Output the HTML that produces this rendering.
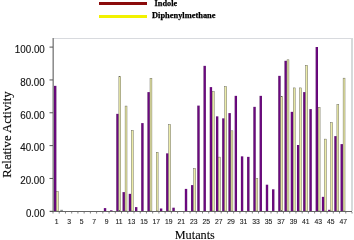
<!DOCTYPE html>
<html><head><meta charset="utf-8"><style>
html,body{margin:0;padding:0;background:#fff;}
body{width:354px;height:240px;overflow:hidden;}
svg{display:block;will-change:transform;}
text{font-family:"Liberation Sans",sans-serif;}
.ser{font-family:"Liberation Serif",serif;}
</style></head><body>
<svg width="354" height="240" viewBox="0 0 354 240">
<defs>
<linearGradient id="gp" x1="0" y1="0" x2="1" y2="0"><stop offset="0" stop-color="#4a0058"/><stop offset="0.3" stop-color="#6c0880"/><stop offset="0.7" stop-color="#6c0880"/><stop offset="1" stop-color="#4a0058"/></linearGradient>
<linearGradient id="gy" x1="0" y1="0" x2="1" y2="0"><stop offset="0" stop-color="#8e8e78"/><stop offset="0.35" stop-color="#f0f2b0"/><stop offset="0.65" stop-color="#f0f2b0"/><stop offset="1" stop-color="#8e8e78"/></linearGradient>
</defs>
<rect x="0" y="0" width="354" height="240" fill="#fff"/>

<rect x="99" y="2" width="48" height="3" fill="#8a0a0a"/>
<rect x="99" y="15" width="48" height="3" fill="#f2f200"/>
<text class="ser" x="154.6" y="6.25" font-size="9" font-weight="bold" fill="#000" stroke="#000" stroke-width="0.25" textLength="22.5" lengthAdjust="spacingAndGlyphs">Indole</text>
<text class="ser" x="152" y="18.1" font-size="9" font-weight="bold" fill="#000" stroke="#000" stroke-width="0.25" textLength="63.5" lengthAdjust="spacingAndGlyphs">Diphenylmethane</text>
<rect x="53" y="38" width="299" height="1" fill="#d8dade"/>
<rect x="351" y="38" width="2" height="173" fill="#d6dada"/>
<rect x="54.02" y="85.85" width="2.35" height="125.15" fill="url(#gp)"/>
<rect x="56.57" y="191.55" width="1.90" height="19.45" fill="#ececa8" stroke="#626252" stroke-width="0.45"/>
<rect x="103.86" y="208.10" width="2.35" height="2.90" fill="url(#gp)"/>
<rect x="110.09" y="210.30" width="2.35" height="0.70" fill="url(#gp)"/>
<rect x="116.32" y="113.85" width="2.35" height="97.15" fill="url(#gp)"/>
<rect x="118.87" y="76.55" width="1.90" height="134.45" fill="#ececa8" stroke="#626252" stroke-width="0.45"/>
<rect x="122.55" y="192.10" width="2.35" height="18.90" fill="url(#gp)"/>
<rect x="125.10" y="106.05" width="1.90" height="104.95" fill="#ececa8" stroke="#626252" stroke-width="0.45"/>
<rect x="128.77" y="193.85" width="2.35" height="17.15" fill="url(#gp)"/>
<rect x="131.32" y="130.30" width="1.90" height="80.70" fill="#ececa8" stroke="#626252" stroke-width="0.45"/>
<rect x="135.00" y="207.10" width="2.35" height="3.90" fill="url(#gp)"/>
<rect x="141.23" y="123.10" width="2.35" height="87.90" fill="url(#gp)"/>
<rect x="147.46" y="92.10" width="2.35" height="118.90" fill="url(#gp)"/>
<rect x="150.01" y="78.30" width="1.90" height="132.70" fill="#ececa8" stroke="#626252" stroke-width="0.45"/>
<rect x="156.24" y="152.30" width="1.90" height="58.70" fill="#ececa8" stroke="#626252" stroke-width="0.45"/>
<rect x="159.92" y="208.50" width="2.35" height="2.50" fill="url(#gp)"/>
<rect x="166.15" y="153.35" width="2.35" height="57.65" fill="url(#gp)"/>
<rect x="168.70" y="124.55" width="1.90" height="86.45" fill="#ececa8" stroke="#626252" stroke-width="0.45"/>
<rect x="172.38" y="207.70" width="2.35" height="3.30" fill="url(#gp)"/>
<rect x="184.84" y="188.90" width="2.35" height="22.10" fill="url(#gp)"/>
<rect x="191.07" y="185.10" width="2.35" height="25.90" fill="url(#gp)"/>
<rect x="193.62" y="168.50" width="1.90" height="42.50" fill="#ececa8" stroke="#626252" stroke-width="0.45"/>
<rect x="197.30" y="105.60" width="2.35" height="105.40" fill="url(#gp)"/>
<rect x="203.52" y="65.85" width="2.35" height="145.15" fill="url(#gp)"/>
<rect x="209.75" y="87.10" width="2.35" height="123.90" fill="url(#gp)"/>
<rect x="212.30" y="91.55" width="1.90" height="119.45" fill="#ececa8" stroke="#626252" stroke-width="0.45"/>
<rect x="215.98" y="116.35" width="2.35" height="94.65" fill="url(#gp)"/>
<rect x="218.53" y="157.10" width="1.90" height="53.90" fill="#ececa8" stroke="#626252" stroke-width="0.45"/>
<rect x="222.21" y="118.35" width="2.35" height="92.65" fill="url(#gp)"/>
<rect x="224.76" y="86.55" width="1.90" height="124.45" fill="#ececa8" stroke="#626252" stroke-width="0.45"/>
<rect x="228.44" y="113.10" width="2.35" height="97.90" fill="url(#gp)"/>
<rect x="230.99" y="130.80" width="1.90" height="80.20" fill="#ececa8" stroke="#626252" stroke-width="0.45"/>
<rect x="234.67" y="95.85" width="2.35" height="115.15" fill="url(#gp)"/>
<rect x="240.90" y="156.35" width="2.35" height="54.65" fill="url(#gp)"/>
<rect x="247.13" y="156.85" width="2.35" height="54.15" fill="url(#gp)"/>
<rect x="253.36" y="106.85" width="2.35" height="104.15" fill="url(#gp)"/>
<rect x="255.91" y="178.40" width="1.90" height="32.60" fill="#ececa8" stroke="#626252" stroke-width="0.45"/>
<rect x="259.59" y="95.85" width="2.35" height="115.15" fill="url(#gp)"/>
<rect x="265.82" y="184.70" width="2.35" height="26.30" fill="url(#gp)"/>
<rect x="272.05" y="189.30" width="2.35" height="21.70" fill="url(#gp)"/>
<rect x="278.27" y="75.85" width="2.35" height="135.15" fill="url(#gp)"/>
<rect x="280.82" y="96.40" width="1.90" height="114.60" fill="#ececa8" stroke="#626252" stroke-width="0.45"/>
<rect x="284.50" y="60.80" width="2.35" height="150.20" fill="url(#gp)"/>
<rect x="287.05" y="59.80" width="1.90" height="151.20" fill="#ececa8" stroke="#626252" stroke-width="0.45"/>
<rect x="290.73" y="111.85" width="2.35" height="99.15" fill="url(#gp)"/>
<rect x="293.28" y="87.90" width="1.90" height="123.10" fill="#ececa8" stroke="#626252" stroke-width="0.45"/>
<rect x="296.96" y="145.00" width="2.35" height="66.00" fill="url(#gp)"/>
<rect x="299.51" y="87.90" width="1.90" height="123.10" fill="#ececa8" stroke="#626252" stroke-width="0.45"/>
<rect x="303.19" y="92.10" width="2.35" height="118.90" fill="url(#gp)"/>
<rect x="305.74" y="65.30" width="1.90" height="145.70" fill="#ececa8" stroke="#626252" stroke-width="0.45"/>
<rect x="309.42" y="109.10" width="2.35" height="101.90" fill="url(#gp)"/>
<rect x="315.65" y="47.00" width="2.35" height="164.00" fill="url(#gp)"/>
<rect x="318.20" y="107.30" width="1.90" height="103.70" fill="#ececa8" stroke="#626252" stroke-width="0.45"/>
<rect x="321.88" y="196.85" width="2.35" height="14.15" fill="url(#gp)"/>
<rect x="324.43" y="139.10" width="1.90" height="71.90" fill="#ececa8" stroke="#626252" stroke-width="0.45"/>
<rect x="328.11" y="209.80" width="2.35" height="1.20" fill="url(#gp)"/>
<rect x="330.66" y="122.50" width="1.90" height="88.50" fill="#ececa8" stroke="#626252" stroke-width="0.45"/>
<rect x="334.34" y="136.10" width="2.35" height="74.90" fill="url(#gp)"/>
<rect x="336.89" y="104.50" width="1.90" height="106.50" fill="#ececa8" stroke="#626252" stroke-width="0.45"/>
<rect x="340.57" y="144.10" width="2.35" height="66.90" fill="url(#gp)"/>
<rect x="343.12" y="78.15" width="1.90" height="132.85" fill="#ececa8" stroke="#626252" stroke-width="0.45"/>
<rect x="60.3" y="209.8" width="2.6" height="1.4" fill="#8a9090"/>
<rect x="52" y="38" width="1" height="173" fill="#bdbdbd"/>
<rect x="53" y="38" width="1" height="173" fill="#8e8e8e"/>
<line x1="50" y1="211.5" x2="352" y2="211.5" stroke="#666" stroke-width="1"/>
<line x1="49.5" y1="211.30" x2="53" y2="211.30" stroke="#555" stroke-width="1"/>
<text x="25.90" y="217.10" font-size="10" fill="#111" stroke="#111" stroke-width="0.12" textLength="18.9" lengthAdjust="spacingAndGlyphs">0.00</text>
<line x1="49.5" y1="178.46" x2="53" y2="178.46" stroke="#555" stroke-width="1"/>
<text x="20.20" y="184.26" font-size="10" fill="#111" stroke="#111" stroke-width="0.12" textLength="24.6" lengthAdjust="spacingAndGlyphs">20.00</text>
<line x1="49.5" y1="145.62" x2="53" y2="145.62" stroke="#555" stroke-width="1"/>
<text x="20.20" y="151.42" font-size="10" fill="#111" stroke="#111" stroke-width="0.12" textLength="24.6" lengthAdjust="spacingAndGlyphs">40.00</text>
<line x1="49.5" y1="112.78" x2="53" y2="112.78" stroke="#555" stroke-width="1"/>
<text x="20.20" y="118.58" font-size="10" fill="#111" stroke="#111" stroke-width="0.12" textLength="24.6" lengthAdjust="spacingAndGlyphs">60.00</text>
<line x1="49.5" y1="79.94" x2="53" y2="79.94" stroke="#555" stroke-width="1"/>
<text x="20.20" y="85.74" font-size="10" fill="#111" stroke="#111" stroke-width="0.12" textLength="24.6" lengthAdjust="spacingAndGlyphs">80.00</text>
<line x1="49.5" y1="47.10" x2="53" y2="47.10" stroke="#555" stroke-width="1"/>
<text x="14.80" y="52.90" font-size="10" fill="#111" stroke="#111" stroke-width="0.12" textLength="30.0" lengthAdjust="spacingAndGlyphs">100.00</text>
<line x1="53.00" y1="212" x2="53.00" y2="213.5" stroke="#666" stroke-width="0.8"/>
<line x1="59.23" y1="212" x2="59.23" y2="213.5" stroke="#666" stroke-width="0.8"/>
<line x1="65.46" y1="212" x2="65.46" y2="213.5" stroke="#666" stroke-width="0.8"/>
<line x1="71.69" y1="212" x2="71.69" y2="213.5" stroke="#666" stroke-width="0.8"/>
<line x1="77.92" y1="212" x2="77.92" y2="213.5" stroke="#666" stroke-width="0.8"/>
<line x1="84.15" y1="212" x2="84.15" y2="213.5" stroke="#666" stroke-width="0.8"/>
<line x1="90.38" y1="212" x2="90.38" y2="213.5" stroke="#666" stroke-width="0.8"/>
<line x1="96.60" y1="212" x2="96.60" y2="213.5" stroke="#666" stroke-width="0.8"/>
<line x1="102.83" y1="212" x2="102.83" y2="213.5" stroke="#666" stroke-width="0.8"/>
<line x1="109.06" y1="212" x2="109.06" y2="213.5" stroke="#666" stroke-width="0.8"/>
<line x1="115.29" y1="212" x2="115.29" y2="213.5" stroke="#666" stroke-width="0.8"/>
<line x1="121.52" y1="212" x2="121.52" y2="213.5" stroke="#666" stroke-width="0.8"/>
<line x1="127.75" y1="212" x2="127.75" y2="213.5" stroke="#666" stroke-width="0.8"/>
<line x1="133.98" y1="212" x2="133.98" y2="213.5" stroke="#666" stroke-width="0.8"/>
<line x1="140.21" y1="212" x2="140.21" y2="213.5" stroke="#666" stroke-width="0.8"/>
<line x1="146.44" y1="212" x2="146.44" y2="213.5" stroke="#666" stroke-width="0.8"/>
<line x1="152.67" y1="212" x2="152.67" y2="213.5" stroke="#666" stroke-width="0.8"/>
<line x1="158.90" y1="212" x2="158.90" y2="213.5" stroke="#666" stroke-width="0.8"/>
<line x1="165.12" y1="212" x2="165.12" y2="213.5" stroke="#666" stroke-width="0.8"/>
<line x1="171.35" y1="212" x2="171.35" y2="213.5" stroke="#666" stroke-width="0.8"/>
<line x1="177.58" y1="212" x2="177.58" y2="213.5" stroke="#666" stroke-width="0.8"/>
<line x1="183.81" y1="212" x2="183.81" y2="213.5" stroke="#666" stroke-width="0.8"/>
<line x1="190.04" y1="212" x2="190.04" y2="213.5" stroke="#666" stroke-width="0.8"/>
<line x1="196.27" y1="212" x2="196.27" y2="213.5" stroke="#666" stroke-width="0.8"/>
<line x1="202.50" y1="212" x2="202.50" y2="213.5" stroke="#666" stroke-width="0.8"/>
<line x1="208.73" y1="212" x2="208.73" y2="213.5" stroke="#666" stroke-width="0.8"/>
<line x1="214.96" y1="212" x2="214.96" y2="213.5" stroke="#666" stroke-width="0.8"/>
<line x1="221.19" y1="212" x2="221.19" y2="213.5" stroke="#666" stroke-width="0.8"/>
<line x1="227.42" y1="212" x2="227.42" y2="213.5" stroke="#666" stroke-width="0.8"/>
<line x1="233.65" y1="212" x2="233.65" y2="213.5" stroke="#666" stroke-width="0.8"/>
<line x1="239.88" y1="212" x2="239.88" y2="213.5" stroke="#666" stroke-width="0.8"/>
<line x1="246.10" y1="212" x2="246.10" y2="213.5" stroke="#666" stroke-width="0.8"/>
<line x1="252.33" y1="212" x2="252.33" y2="213.5" stroke="#666" stroke-width="0.8"/>
<line x1="258.56" y1="212" x2="258.56" y2="213.5" stroke="#666" stroke-width="0.8"/>
<line x1="264.79" y1="212" x2="264.79" y2="213.5" stroke="#666" stroke-width="0.8"/>
<line x1="271.02" y1="212" x2="271.02" y2="213.5" stroke="#666" stroke-width="0.8"/>
<line x1="277.25" y1="212" x2="277.25" y2="213.5" stroke="#666" stroke-width="0.8"/>
<line x1="283.48" y1="212" x2="283.48" y2="213.5" stroke="#666" stroke-width="0.8"/>
<line x1="289.71" y1="212" x2="289.71" y2="213.5" stroke="#666" stroke-width="0.8"/>
<line x1="295.94" y1="212" x2="295.94" y2="213.5" stroke="#666" stroke-width="0.8"/>
<line x1="302.17" y1="212" x2="302.17" y2="213.5" stroke="#666" stroke-width="0.8"/>
<line x1="308.40" y1="212" x2="308.40" y2="213.5" stroke="#666" stroke-width="0.8"/>
<line x1="314.62" y1="212" x2="314.62" y2="213.5" stroke="#666" stroke-width="0.8"/>
<line x1="320.85" y1="212" x2="320.85" y2="213.5" stroke="#666" stroke-width="0.8"/>
<line x1="327.08" y1="212" x2="327.08" y2="213.5" stroke="#666" stroke-width="0.8"/>
<line x1="333.31" y1="212" x2="333.31" y2="213.5" stroke="#666" stroke-width="0.8"/>
<line x1="339.54" y1="212" x2="339.54" y2="213.5" stroke="#666" stroke-width="0.8"/>
<line x1="345.77" y1="212" x2="345.77" y2="213.5" stroke="#666" stroke-width="0.8"/>
<line x1="352.00" y1="212" x2="352.00" y2="213.5" stroke="#666" stroke-width="0.8"/>
<text x="56.71" y="224" font-size="6.8" text-anchor="middle" fill="#1a1a1a" stroke="#1a1a1a" stroke-width="0.1">1</text>
<text x="69.17" y="224" font-size="6.8" text-anchor="middle" fill="#1a1a1a" stroke="#1a1a1a" stroke-width="0.1">3</text>
<text x="81.63" y="224" font-size="6.8" text-anchor="middle" fill="#1a1a1a" stroke="#1a1a1a" stroke-width="0.1">5</text>
<text x="94.09" y="224" font-size="6.8" text-anchor="middle" fill="#1a1a1a" stroke="#1a1a1a" stroke-width="0.1">7</text>
<text x="106.55" y="224" font-size="6.8" text-anchor="middle" fill="#1a1a1a" stroke="#1a1a1a" stroke-width="0.1">9</text>
<text x="119.01" y="224" font-size="6.8" text-anchor="middle" fill="#1a1a1a" stroke="#1a1a1a" stroke-width="0.1">11</text>
<text x="131.46" y="224" font-size="6.8" text-anchor="middle" fill="#1a1a1a" stroke="#1a1a1a" stroke-width="0.1">13</text>
<text x="143.92" y="224" font-size="6.8" text-anchor="middle" fill="#1a1a1a" stroke="#1a1a1a" stroke-width="0.1">15</text>
<text x="156.38" y="224" font-size="6.8" text-anchor="middle" fill="#1a1a1a" stroke="#1a1a1a" stroke-width="0.1">17</text>
<text x="168.84" y="224" font-size="6.8" text-anchor="middle" fill="#1a1a1a" stroke="#1a1a1a" stroke-width="0.1">19</text>
<text x="181.30" y="224" font-size="6.8" text-anchor="middle" fill="#1a1a1a" stroke="#1a1a1a" stroke-width="0.1">21</text>
<text x="193.76" y="224" font-size="6.8" text-anchor="middle" fill="#1a1a1a" stroke="#1a1a1a" stroke-width="0.1">23</text>
<text x="206.21" y="224" font-size="6.8" text-anchor="middle" fill="#1a1a1a" stroke="#1a1a1a" stroke-width="0.1">25</text>
<text x="218.67" y="224" font-size="6.8" text-anchor="middle" fill="#1a1a1a" stroke="#1a1a1a" stroke-width="0.1">27</text>
<text x="231.13" y="224" font-size="6.8" text-anchor="middle" fill="#1a1a1a" stroke="#1a1a1a" stroke-width="0.1">29</text>
<text x="243.59" y="224" font-size="6.8" text-anchor="middle" fill="#1a1a1a" stroke="#1a1a1a" stroke-width="0.1">31</text>
<text x="256.05" y="224" font-size="6.8" text-anchor="middle" fill="#1a1a1a" stroke="#1a1a1a" stroke-width="0.1">33</text>
<text x="268.51" y="224" font-size="6.8" text-anchor="middle" fill="#1a1a1a" stroke="#1a1a1a" stroke-width="0.1">35</text>
<text x="280.96" y="224" font-size="6.8" text-anchor="middle" fill="#1a1a1a" stroke="#1a1a1a" stroke-width="0.1">37</text>
<text x="293.42" y="224" font-size="6.8" text-anchor="middle" fill="#1a1a1a" stroke="#1a1a1a" stroke-width="0.1">39</text>
<text x="305.88" y="224" font-size="6.8" text-anchor="middle" fill="#1a1a1a" stroke="#1a1a1a" stroke-width="0.1">41</text>
<text x="318.34" y="224" font-size="6.8" text-anchor="middle" fill="#1a1a1a" stroke="#1a1a1a" stroke-width="0.1">43</text>
<text x="330.80" y="224" font-size="6.8" text-anchor="middle" fill="#1a1a1a" stroke="#1a1a1a" stroke-width="0.1">45</text>
<text x="343.26" y="224" font-size="6.8" text-anchor="middle" fill="#1a1a1a" stroke="#1a1a1a" stroke-width="0.1">47</text>
<text class="ser" x="174.7" y="238.9" font-size="13.3" fill="#000" stroke="#000" stroke-width="0.08" textLength="40.2" lengthAdjust="spacingAndGlyphs">Mutants</text>
<text class="ser" transform="translate(11.3,177.75) rotate(-90)" x="0" y="0" font-size="13" fill="#000" stroke="#000" stroke-width="0.15" textLength="86.4" lengthAdjust="spacingAndGlyphs">Relative Activity</text>
</svg>
</body></html>
